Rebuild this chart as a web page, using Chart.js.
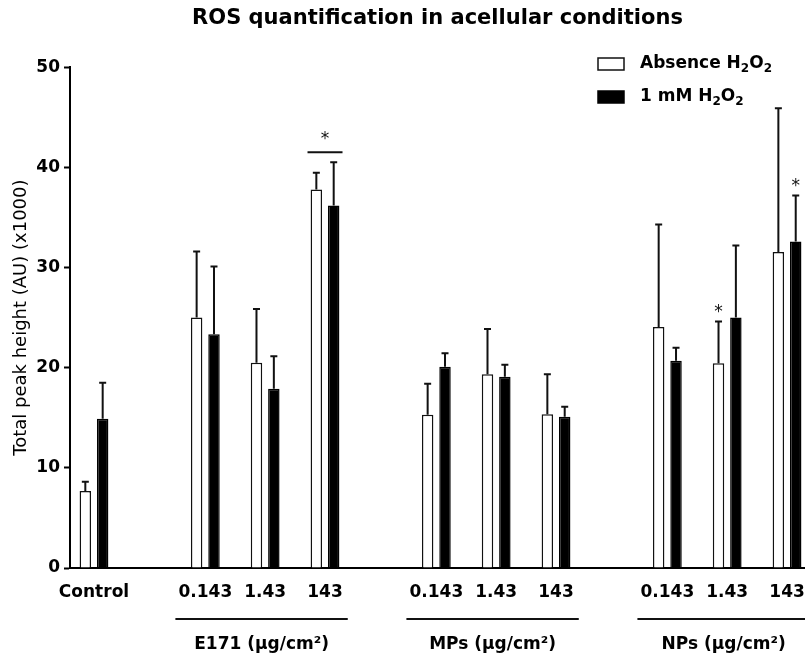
<!DOCTYPE html>
<html>
<head>
<meta charset="utf-8">
<title>ROS quantification in acellular conditions</title>
<script src="https://cdn.jsdelivr.net/npm/chart.js@4.4.0/dist/chart.umd.min.js"></script>
<style>
  html, body { margin: 0; padding: 0; background: #fff; }
</style>
</head>
<body>
<canvas id="myChart" width="805" height="659"></canvas>
<script>
const doses = ['Control', '0.143', '1.43', '143', '0.143', '1.43', '143', '0.143', '1.43', '143']
const groupOf = [null, 0, 0, 0, 1, 1, 1, 2, 2, 2]
const groupNames = ['E171 (µg/cm²)', 'MPs (µg/cm²)', 'NPs (µg/cm²)']

const absenceMean = [7.7, 25.0, 20.5, 37.8, 15.3, 19.35, 15.35, 24.05, 20.45, 31.55]
const absenceSd = [0.9, 6.6, 5.35, 1.65, 3.1, 4.5, 4.0, 10.25, 4.15, 14.35]
const h2o2Mean = [14.9, 23.35, 17.9, 36.2, 20.1, 19.1, 15.1, 20.7, 25.0, 32.6]
const h2o2Sd = [3.6, 6.75, 3.25, 4.3, 1.35, 1.2, 1.0, 1.3, 7.2, 4.6]

// significance marks (1 = star)
const starAbsence = [0, 0, 0, 0, 0, 0, 0, 0, 1, 0]
const starH2o2 = [0, 0, 0, 0, 0, 0, 0, 0, 0, 1]
const starPair = [0, 0, 0, 1, 0, 0, 0, 0, 0, 0]

const yTicks = [0, 10, 20, 30, 40, 50]

// slot of each bar pair on the x axis, with an extra gap between groups
const GROUP_GAP = 0.86
const pos = []
let slot = 0
groupOf.forEach((g, i) => {
  if (i > 0) slot += 1 + (g !== groupOf[i - 1] ? GROUP_GAP : 0)
  pos.push(slot)
})

const toPoints = (values) => values.map((v, i) => ({ x: pos[i], y: v }))

Chart.defaults.font.family = '"DejaVu Sans", sans-serif'
Chart.defaults.color = '#000'

const errorBars = {
  id: 'errorBars',
  afterDatasetsDraw(chart) {
    const { ctx, scales: { y } } = chart
    ctx.save()
    ctx.strokeStyle = '#111'
    ctx.lineWidth = 2
    chart.data.datasets.forEach((ds, di) => {
      chart.getDatasetMeta(di).data.forEach((bar, i) => {
        const top = y.getPixelForValue(ds.data[i].y + ds.errors[i])
        ctx.beginPath()
        ctx.moveTo(bar.x, bar.y)
        ctx.lineTo(bar.x, top)
        ctx.moveTo(bar.x - 3.5, top)
        ctx.lineTo(bar.x + 3.5, top)
        ctx.stroke()
      })
    })

    // stars
    ctx.fillStyle = '#111'
    ctx.font = '17px "DejaVu Sans"'
    ctx.textAlign = 'center'
    ctx.textBaseline = 'alphabetic'
    const capTop = (di, i) => {
      const ds = chart.data.datasets[di]
      return y.getPixelForValue(ds.data[i].y + ds.errors[i])
    }
    chart.data.datasets.forEach((ds, di) => {
      const bars = chart.getDatasetMeta(di).data
      ds.stars.forEach((s, i) => {
        if (!s) return
        ctx.fillText('*', bars[i].x, capTop(di, i) - 4.5)
      })
    })
    starPair.forEach((s, i) => {
      if (!s) return
      const a = chart.getDatasetMeta(0).data[i]
      const b = chart.getDatasetMeta(1).data[i]
      const lineY = Math.min(capTop(0, i), capTop(1, i)) - 10
      const cx = (a.x + b.x) / 2
      ctx.beginPath()
      ctx.moveTo(cx - 17.5, lineY)
      ctx.lineTo(cx + 17.5, lineY)
      ctx.stroke()
      ctx.fillText('*', cx, lineY - 8.5)
    })
    ctx.restore()
  }
}

const groupAxis = {
  id: 'groupAxis',
  afterDraw(chart) {
    const { ctx, chartArea, scales: { x } } = chart
    ctx.save()
    ctx.strokeStyle = '#111'
    ctx.lineWidth = 2
    ctx.fillStyle = '#000'
    ctx.font = 'bold 17px "DejaVu Sans"'
    ctx.textAlign = 'center'
    ctx.textBaseline = 'middle'
    groupNames.forEach((name, g) => {
      const idx = groupOf.map((v, i) => (v === g ? i : -1)).filter(i => i >= 0)
      const x1 = x.getPixelForValue(pos[idx[0]] - 0.5)
      const x2 = x.getPixelForValue(pos[idx[idx.length - 1]] + 0.38)
      const ly = chartArea.bottom + 51
      ctx.beginPath()
      ctx.moveTo(x1, ly)
      ctx.lineTo(x2, ly)
      ctx.stroke()
      ctx.fillText(name, (x1 + x2) / 2, chartArea.bottom + 77)
    })
    ctx.restore()
  }
}

// legend text with real subscript digits drawn smaller and lower
const drawSubText = (ctx, text, x, y) => {
  let cx = x
  for (const ch of text) {
    const sub = '₀₁₂₃₄₅₆₇₈₉'.indexOf(ch)
    if (sub >= 0) {
      ctx.font = 'bold 12px "DejaVu Sans"'
      ctx.fillText(String(sub), cx, y + 5)
      cx += ctx.measureText(String(sub)).width
    } else {
      ctx.font = 'bold 17px "DejaVu Sans"'
      ctx.fillText(ch, cx, y)
      cx += ctx.measureText(ch).width
    }
  }
}

const boxLegend = {
  id: 'boxLegend',
  afterDraw(chart) {
    const { ctx } = chart
    const rows = [64, 97]
    ctx.save()
    ctx.textBaseline = 'middle'
    ctx.textAlign = 'left'
    chart.data.datasets.forEach((ds, i) => {
      const yc = rows[i]
      ctx.fillStyle = ds.backgroundColor
      ctx.fillRect(598, yc - 6, 26, 12)
      ctx.strokeStyle = ds.borderColor
      ctx.lineWidth = 1.5
      ctx.strokeRect(598, yc - 6, 26, 12)
      ctx.fillStyle = '#000'
      drawSubText(ctx, ds.label, 640, yc)
    })
    ctx.restore()
  }
}

new Chart(document.getElementById('myChart'), {
  type: 'bar',
  data: {
    datasets: [
      {
        label: 'Absence H₂O₂',
        data: toPoints(absenceMean),
        errors: absenceSd,
        stars: starAbsence,
        backgroundColor: '#fff',
        borderColor: '#111',
        borderWidth: 1.5
      },
      {
        label: '1 mM H₂O₂',
        data: toPoints(h2o2Mean),
        errors: h2o2Sd,
        stars: starH2o2,
        backgroundColor: '#000',
        borderColor: '#000',
        borderWidth: 1.5
      }
    ]
  },
  options: {
    responsive: false,
    animation: false,
    datasets: { bar: { categoryPercentage: 0.58, barPercentage: 0.66 } },
    layout: { padding: 0 },
    plugins: {
      legend: { display: false },
      tooltip: { enabled: false },
      title: {
        display: true,
        text: 'ROS quantification in acellular conditions',
        font: { size: 21, weight: 'bold' },
        color: '#000',
        fullSize: false,
        padding: { top: 6, bottom: 36 }
      }
    },
    scales: {
      x: {
        type: 'linear',
        min: -0.401,
        max: 11.88,
        offset: false,
        afterBuildTicks: (s) => { s.ticks = pos.map(v => ({ value: v })) },
        ticks: {
          autoSkip: false,
          maxRotation: 0,
          minRotation: 0,
          padding: 14,
          font: { size: 17, weight: 'bold' },
          color: '#000',
          callback: (v, i) => doses[i]
        },
        grid: { display: false, drawTicks: false, offset: false },
        border: { display: true, color: '#000', width: 2 },
        afterFit: (s) => { s.height = 91; s.paddingLeft = 0; s.paddingRight = 0 }
      },
      y: {
        min: 0,
        max: 50,
        afterBuildTicks: (s) => { s.ticks = yTicks.map(v => ({ value: v })) },
        ticks: { font: { size: 17, weight: 'bold' }, color: '#000', padding: 4 },
        grid: {
          display: true,
          drawOnChartArea: false,
          drawTicks: true,
          tickLength: 6,
          tickWidth: 2,
          tickColor: '#000'
        },
        border: { display: true, color: '#000', width: 2 },
        title: {
          display: true,
          text: 'Total peak height (AU) (x1000)',
          font: { size: 18 },
          color: '#000',
          padding: { top: 11, bottom: 0 }
        },
        afterFit: (s) => { s.width = 70 }
      }
    }
  },
  plugins: [errorBars, groupAxis, boxLegend]
})
</script>
</body>
</html>
